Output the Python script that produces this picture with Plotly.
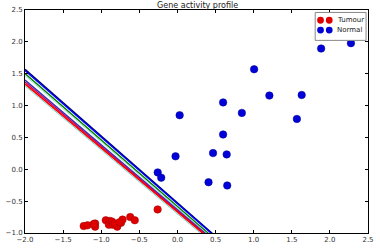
import plotly.graph_objects as go

# Tumour samples (gene A, gene B)
tumour_x = [-1.23, -1.18, -1.08, -1.08, -0.94, -0.89, -0.90, -0.86, -0.85, -0.79,
            -0.74, -0.72, -0.62, -0.56, -0.26, -1.10, -0.82, -0.76]
tumour_y = [-0.89, -0.88, -0.85, -0.90, -0.80, -0.81, -0.87, -0.82, -0.87, -0.90,
            -0.84, -0.79, -0.75, -0.80, -0.63, -0.86, -0.85, -0.83]

# Normal samples
normal_x = [1.885, 2.276, 1.006, 1.206, 1.63, 0.599, 0.845, 1.567, 0.599, 0.467,
            0.646, 0.408, 0.653, -0.025, -0.259, -0.213, 0.029]
normal_y = [1.895, 1.98, 1.57, 1.157, 1.166, 1.05, 0.885, 0.79, 0.546, 0.254,
            0.234, -0.203, -0.254, 0.203, -0.049, -0.131, 0.849]

# Decision boundaries (y = slope * x + intercept)
boundary_slope = [-1.049, -1.045, -1.042, -1.038, -1.017, -1.011, -1.004, -1.004]
boundary_intercept = [-0.528, -0.540, -0.583, -0.606, -0.634, -0.651, -0.669, -0.699]
boundary_color = ["#000060", "#0000ff", "#008000", "#7fd8c8", "#3030c0", "#c00060", "#ff0000", "#40d0c0"]
boundary_width = [1.6, 1.4, 1.4, 0.8, 1.4, 1.4, 1.6, 0.8]

x_range = [-2.0, 2.5]
y_range = [-1.0, 2.5]
ticks_x = [-2.0, -1.5, -1.0, -0.5, 0.0, 0.5, 1.0, 1.5, 2.0, 2.5]
ticks_y = [-1.0, -0.5, 0.0, 0.5, 1.0, 1.5, 2.0, 2.5]

fig = go.Figure()

for m, b, c, w in zip(boundary_slope, boundary_intercept, boundary_color, boundary_width):
    xs = x_range
    ys = [m * x + b for x in xs]
    fig.add_trace(go.Scatter(x=xs, y=ys, mode="lines", line=dict(color=c, width=w),
                             showlegend=False, hoverinfo="skip"))

fig.add_trace(go.Scatter(x=tumour_x, y=tumour_y, mode="markers", name="Tumour",
                         marker=dict(color="#e00000", size=7.5, line=dict(color="#a00000", width=0.5)),
                         showlegend=False))
fig.add_trace(go.Scatter(x=normal_x, y=normal_y, mode="markers", name="Normal",
                         marker=dict(color="#0000d8", size=7.5, line=dict(color="#000090", width=0.5)),
                         showlegend=False))

font = dict(family="DejaVu Sans", size=7, color="#333333")

axis_common = dict(showgrid=False, zeroline=False, showline=True, linecolor="black",
                   linewidth=1, mirror="ticks", ticks="inside", ticklen=3,
                   tickcolor="black", tickfont=font, tickformat=".1f")

fig.update_layout(
    width=380, height=250,
    margin=dict(l=20, r=6, t=10, b=12),
    paper_bgcolor="white", plot_bgcolor="white",
    title=dict(text="Gene activity profile", x=0.52, xanchor="center", y=0.99,
               yanchor="top", font=dict(family="DejaVu Sans", size=8, color="#222222")),
    xaxis=dict(range=x_range, tickvals=ticks_x, **axis_common),
    yaxis=dict(range=y_range, tickvals=ticks_y, **axis_common),
)

# Custom legend (matplotlib style, two markers per entry)
shapes = [dict(type="rect", xref="paper", yref="paper",
               x0=(319.5 - 20) / 354, x1=(372 - 20) / 354,
               y0=(237.5 - 41) / 227.5, y1=(237.5 - 12.5) / 227.5,
               line=dict(color="#888888", width=1), fillcolor="white", layer="above")]
legend_items = [("Tumour", "#e00000", 20.5), ("Normal", "#0000d8", 30.5)]
annotations = []
for label, col, yy in legend_items:
    for cx in (325, 334):
        shapes.append(dict(type="circle", xref="paper", yref="paper",
                           x0=(cx - 3.5 - 20) / 354, x1=(cx + 3.5 - 20) / 354,
                           y0=(237.5 - yy - 3.5) / 227.5, y1=(237.5 - yy + 3.5) / 227.5,
                           fillcolor=col, line=dict(color=col, width=0), layer="above"))
    annotations.append(dict(xref="paper", yref="paper", x=(339.5 - 20) / 354,
                            y=(237.5 - yy) / 227.5, text=label, showarrow=False,
                            xanchor="left", yanchor="middle",
                            font=dict(family="DejaVu Sans", size=7, color="#222222")))

fig.update_layout(shapes=shapes, annotations=annotations)

fig.write_html("out.html")
